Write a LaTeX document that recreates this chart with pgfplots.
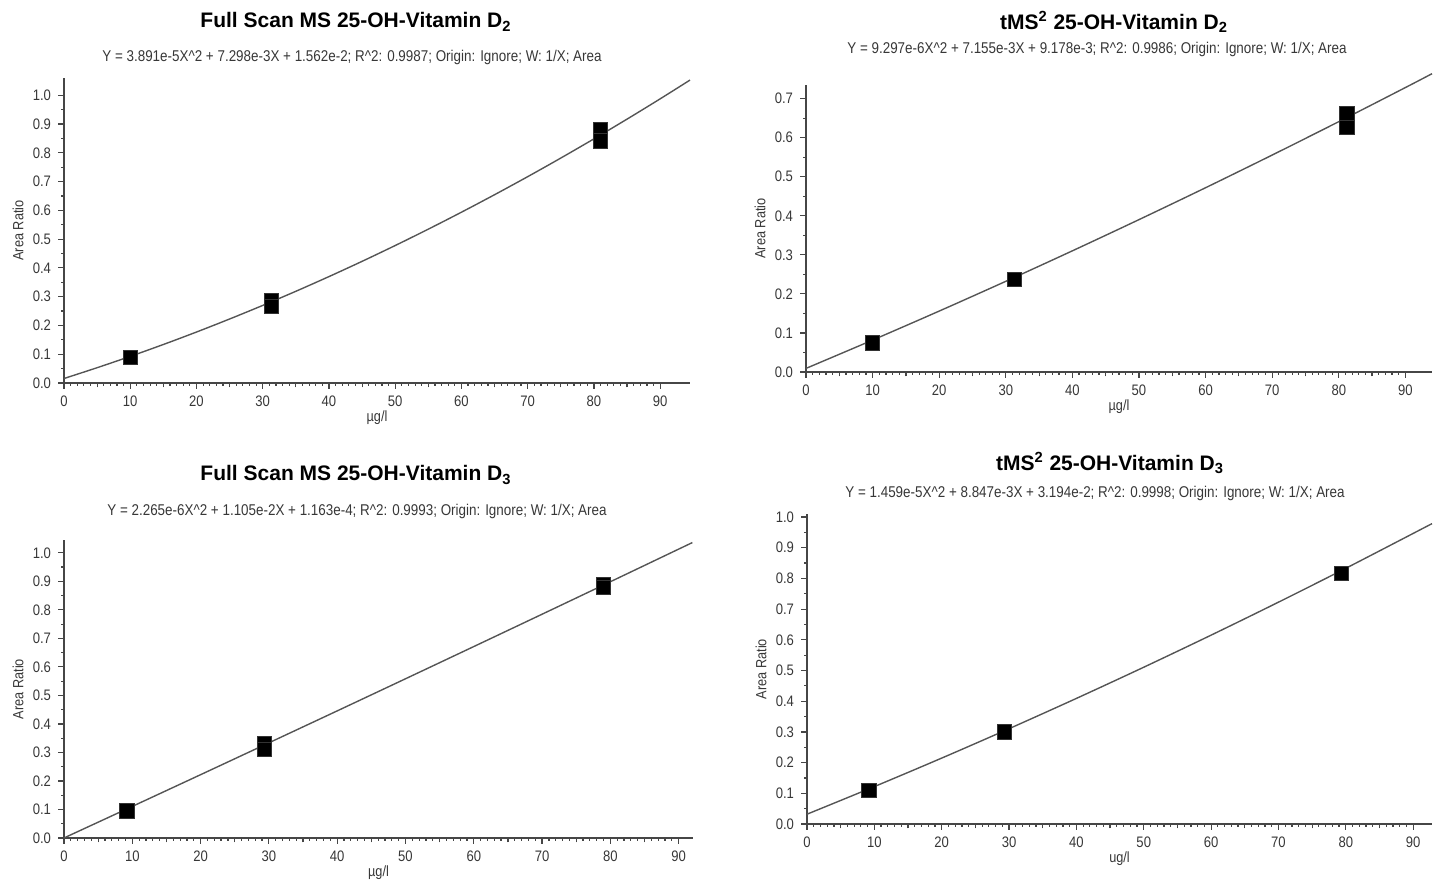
\documentclass[border=0pt]{standalone}
\usepackage{fontspec}
\setmainfont{Liberation Sans}
\newfontfamily\narrowfont[FakeStretch=0.86]{Liberation Sans}
\usepackage{pgfplots}
\pgfplotsset{compat=1.18}
\definecolor{axc}{RGB}{70,70,70}
\definecolor{txt}{RGB}{55,55,55}
\definecolor{fitc}{RGB}{85,85,85}

\pgfplotsset{calib/.style={
  scale only axis, clip=false,
  axis x line*=bottom, axis y line*=left,
  axis line style={color=axc, line width=0.8pt},
  tick align=outside,
  tick style={color=axc, line width=0.6pt},
  major tick length=3pt, minor tick length=1.5pt,
  xmin=0, ymin=0,
  xtick={0,10,...,90}, minor x tick num=9,
  extra x ticks={5,15,25,35,45,55,65,75,85},
  extra x tick labels={},
  extra x tick style={major tick length=2.2pt},
  minor y tick num=1,
  tick label style={font=\narrowfont\fontsize{7.6}{8}\selectfont, color=txt},
  /pgf/number format/assume math mode=true,
  yticklabel style={/pgf/number format/.cd, fixed, fixed zerofill, precision=1},
  xticklabel style={/pgf/number format/.cd, fixed, precision=0},
  xlabel style={at={(axis description cs:0.5,0)}, anchor=center, yshift=-17.5pt,
    font=\narrowfont\fontsize{7.4}{8}\selectfont, color=txt},
  ylabel style={at={(axis description cs:0,0.5)}, anchor=center, yshift=23pt,
    font=\narrowfont\fontsize{7.4}{8}\selectfont, color=txt},
  ylabel={Area Ratio},
}}
\pgfplotsset{fitline/.style={color=fitc, line width=0.7pt, no marks, smooth}}
\pgfplotsset{pts/.style={only marks, mark=square*, mark size=3.6pt,
  mark options={fill=black, draw=black!80}}}

\newcommand{\ttl}[1]{{\bfseries\fontsize{10.5}{12}\selectfont #1}}
\newcommand{\sub}[1]{{\narrowfont\fontsize{7.8}{9}\selectfont\color{txt}#1}}

\begin{document}
\begin{tikzpicture}
\useasboundingbox (0,0) rectangle (719.5pt,440.5pt);

% ---- top left: Full Scan MS D2 ----
\begin{axis}[calib, at={(32pt,249pt)}, anchor=origin,
  width=313pt, height=152.5pt, xmax=94.5, ymax=1.06,
  ytick={0,0.1,0.2,0.3,0.4,0.5,0.6,0.7,0.8,0.9,1.0},
  xlabel={µg/l}]
\addplot[fitline] coordinates {
  (0,0.0156) (5,0.0531) (10,0.0925) (15,0.1338) (20,0.1771) (25,0.2224)
  (30,0.2696) (35,0.3187) (40,0.3698) (45,0.4228) (50,0.4778) (55,0.5347)
  (60,0.5936) (65,0.6544) (70,0.7171) (75,0.7818) (80,0.8485) (85,0.9171)
  (90,0.9876) (94.5,1.0528)};
\addplot[pts] coordinates {
  (10,0.088) (31.3,0.285) (31.3,0.266) (81,0.880) (81,0.842)};
\end{axis}

% ---- top right: tMS2 D2 ----
\begin{axis}[calib, at={(403pt,254.5pt)}, anchor=origin,
  width=313pt, height=143.5pt, xmax=94, ymax=0.735,
  ytick={0,0.1,0.2,0.3,0.4,0.5,0.6,0.7},
  xlabel={µg/l}]
\addplot[fitline] coordinates {
  (0,0.0092) (10,0.0817) (20,0.1560) (30,0.2322) (40,0.3103) (50,0.3902)
  (60,0.4719) (70,0.5556) (80,0.6411) (90,0.7284) (94,0.7639)};
\addplot[pts] coordinates {
  (10,0.075) (31.3,0.237) (81.2,0.662) (81.2,0.627)};
\end{axis}

% ---- bottom left: Full Scan MS D3 ----
\begin{axis}[calib, at={(32pt,21.5pt)}, anchor=origin,
  width=314.5pt, height=149pt, xmax=92.1, ymax=1.045,
  ytick={0,0.1,0.2,0.3,0.4,0.5,0.6,0.7,0.8,0.9,1.0},
  xlabel={µg/l}]
\addplot[fitline] coordinates {
  (0,0.0001) (10,0.1108) (20,0.2220) (30,0.3337) (40,0.4457) (50,0.5583)
  (60,0.6713) (70,0.7847) (80,0.8986) (92,1.0359)};
\addplot[pts] coordinates {
  (9.2,0.095) (29.3,0.330) (29.3,0.310) (79,0.890) (79,0.878)};
\end{axis}

% ---- bottom right: tMS2 D3 ----
\begin{axis}[calib, at={(403.5pt,28.5pt)}, anchor=origin,
  width=312.5pt, height=155pt, xmax=92.8, ymax=1.01,
  ytick={0,0.1,0.2,0.3,0.4,0.5,0.6,0.7,0.8,0.9,1.0},
  xlabel={ug/l}]
\addplot[fitline] coordinates {
  (0,0.0319) (10,0.1219) (20,0.2147) (30,0.3105) (40,0.4092) (50,0.5108)
  (60,0.6153) (70,0.7227) (80,0.8331) (92.8,0.9786)};
\addplot[pts] coordinates {
  (9.2,0.110) (29.3,0.300) (79.3,0.817)};
\end{axis}

% ---- titles and fit equations ----
\node at (178pt,429.5pt) {\ttl{Full Scan MS 25-OH-Vitamin D\textsubscript{2}}};
\node at (176pt,412pt) {\sub{Y = 3.891e-5X\^{}2 + 7.298e-3X + 1.562e-2; R\^{}2: 0.9987; Origin: Ignore; W: 1/X; Area}};
\node at (557pt,429.5pt) {\ttl{tMS\textsuperscript{2} 25-OH-Vitamin D\textsubscript{2}}};
\node at (548.5pt,416pt) {\sub{Y = 9.297e-6X\^{}2 + 7.155e-3X + 9.178e-3; R\^{}2: 0.9986; Origin: Ignore; W: 1/X; Area}};
\node at (178pt,203pt) {\ttl{Full Scan MS 25-OH-Vitamin D\textsubscript{3}}};
\node at (178.5pt,185pt) {\sub{Y = 2.265e-6X\^{}2 + 1.105e-2X + 1.163e-4; R\^{}2: 0.9993; Origin: Ignore; W: 1/X; Area}};
\node at (555pt,209pt) {\ttl{tMS\textsuperscript{2} 25-OH-Vitamin D\textsubscript{3}}};
\node at (547.5pt,194pt) {\sub{Y = 1.459e-5X\^{}2 + 8.847e-3X + 3.194e-2; R\^{}2: 0.9998; Origin: Ignore; W: 1/X; Area}};
\end{tikzpicture}
\end{document}
